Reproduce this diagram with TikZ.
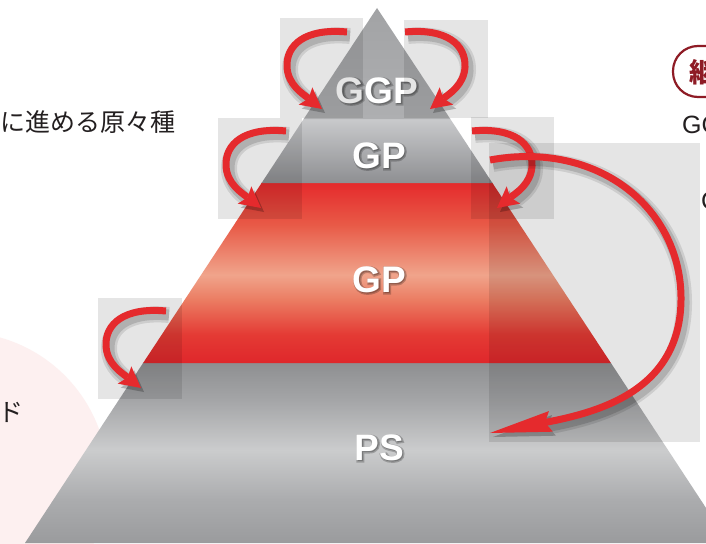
\documentclass[tikz,border=0pt]{standalone}
\usepackage{fontspec}
\setmainfont{Liberation Sans}
\newfontfamily\glowfont{Liberation Sans}[BoldFeatures={FakeBold=7}]
\newfontfamily\jpfont{Noto Sans CJK JP}
\usetikzlibrary{arrows.meta,calc}
\definecolor{arrowred}{HTML}{E52A2D}
\definecolor{markred}{HTML}{8E1B25}
\definecolor{txtdark}{HTML}{231F20}
\definecolor{pinkbg}{HTML}{FDF0F0}
\definecolor{rA}{HTML}{E52A2C}
\definecolor{rB}{HTML}{E85A47}
\definecolor{rC}{HTML}{F0A48B}
\definecolor{rD}{HTML}{EB7C62}
\definecolor{rE}{HTML}{E43A34}
\definecolor{rF}{HTML}{DF272B}
\definecolor{gA}{HTML}{8E8F91}
\definecolor{gB}{HTML}{A4A5A7}
\definecolor{gC}{HTML}{CBCCCD}
\definecolor{gD}{HTML}{ABACAE}
\definecolor{gE}{HTML}{9A9B9D}
\definecolor{gpTop}{HTML}{C9CACC}
\definecolor{gpBot}{HTML}{8E8F92}
\definecolor{ggpTop}{HTML}{A2A3A5}
\definecolor{ggpBot}{HTML}{AEAFB1}
\pgfdeclareverticalshading{redband}{100bp}{color(0bp)=(rF); color(25bp)=(rF); color(32.8bp)=(rE); color(42.5bp)=(rD); color(49.4bp)=(rC); color(63.3bp)=(rB); color(75bp)=(rA); color(100bp)=(rA)}
\pgfdeclareverticalshading{psband}{100bp}{color(0bp)=(gE); color(25bp)=(gE); color(37bp)=(gD); color(50.8bp)=(gC); color(64.7bp)=(gB); color(75bp)=(gA); color(100bp)=(gA)}
\newcommand\shadowed[2]{%
  \begin{scope}[transparency group, opacity=0.10]\draw[black, line width=16pt, shift={(3,4)}, #1] #2;\end{scope}
  \begin{scope}[transparency group, opacity=0.14]\draw[black, line width=11pt, shift={(3,4)}, #1] #2;\end{scope}
  \draw[arrowred, line width=7pt, #1] #2;}
\begin{document}
\begin{tikzpicture}[x=1pt,y=-1pt,
  lbl/.style={font=\bfseries\fontsize{37}{40}\selectfont, text=white, inner sep=0pt, anchor=base},
  glow/.style={font=\glowfont\bfseries\fontsize{37}{40}\selectfont, text=black, opacity=0.22, inner sep=0pt, anchor=base},
  jp/.style={font=\jpfont\fontsize{25}{30}\selectfont, text=txtdark, inner sep=0pt},
  box/.style={fill=black, fill opacity=0.1},
  smalltip/.style={-{Stealth[length=21pt,width=22pt,inset=4pt,line width=0pt]}},
  bigtip/.style={-{Stealth[length=62pt,width=21pt,inset=6pt,line width=0pt]}}]
\useasboundingbox (0,0) rectangle (706,543);
\clip (0,0) rectangle (706,543);
\fill[white] (0,0) rectangle (706,543);
\fill[pinkbg] (-40,480) circle[radius=148pt];
% pyramid bands
\path[shading=psband] (143.4,362.5) -- (610.6,362.5) -- (729,543) -- (25,543) -- cycle;
\path[shading=redband] (261.9,182.5) -- (492.1,182.5) -- (610.9,363) -- (143.1,363) -- cycle;
\path[top color=gpTop, bottom color=gpBot] (304,118.5) -- (450,118.5) -- (492.4,183) -- (261.6,183) -- cycle;
\path[top color=ggpTop, bottom color=ggpBot] (377,8) -- (450.3,119) -- (303.7,119) -- cycle;
% labels with soft dark halo
\foreach \n/\t/\x/\y in {ggp/GGP/377/103, gpa/GP/379/168, gpb/GP/379/292, ps/PS/379/460}{
  \node[glow] (\n-halo) at (\x+1,\y+1.2) {\t};
  \node[lbl] (\n) at (\x,\y) {\t};
}
% translucent boxes
\fill[box] (280,18) rectangle (363,118);
\fill[box] (404,20) rectangle (488,118);
\fill[box] (218,118) rectangle (302,219);
\fill[box] (471,117) rectangle (554,219);
\fill[box] (489,143) rectangle (700,442);
\fill[box] (98,298) rectangle (182,399);
% curved arrows
\shadowed{smalltip}{(347,32) .. controls (305,28) and (286,45) .. (287,67) .. controls (288,85) and (303,94) .. (322,109)}
\shadowed{smalltip}{(405,32) .. controls (447,28) and (466,45) .. (465,67) .. controls (464,85) and (449,94) .. (430,109)}
\begin{scope}[shift={(-61,99)}]
\shadowed{smalltip}{(347,32) .. controls (305,28) and (286,45) .. (287,67) .. controls (288,85) and (303,94) .. (322,109)}
\end{scope}
\begin{scope}[shift={(67,99)}]
\shadowed{smalltip}{(405,32) .. controls (447,28) and (466,45) .. (465,67) .. controls (464,85) and (449,94) .. (430,109)}
\end{scope}
\begin{scope}[shift={(-181,279)}]
\shadowed{smalltip}{(347,32) .. controls (305,28) and (286,45) .. (287,67) .. controls (288,85) and (303,94) .. (322,109)}
\end{scope}
\shadowed{bigtip}{(490,160) .. controls (600,140) and (682,210) .. (681,300) .. controls (680,390) and (600,412) .. (490,433)}
% side texts
\node[jp, anchor=base east] (jptop) at (176,131) {に進める原々種};
\node[jp, anchor=base east] (jpdo) at (24,421) {ド};
\draw[markred, line width=2.2pt, rounded corners=25pt] (745,46) -- (673,46) -- (673,97) -- (745,97);
\node[anchor=west, text=markred, font=\jpfont\bfseries\fontsize{27}{30}\selectfont, inner sep=0pt] (kei) at (689,72) {継};
\node[anchor=base west, text=txtdark, font=\fontsize{25}{30}\selectfont, inner sep=0pt] (ggpr) at (682,133) {GGP};
\node[anchor=base west, text=txtdark, font=\fontsize{25}{30}\selectfont, inner sep=0pt] (cpart) at (701,209) {C};
\end{tikzpicture}
\end{document}
